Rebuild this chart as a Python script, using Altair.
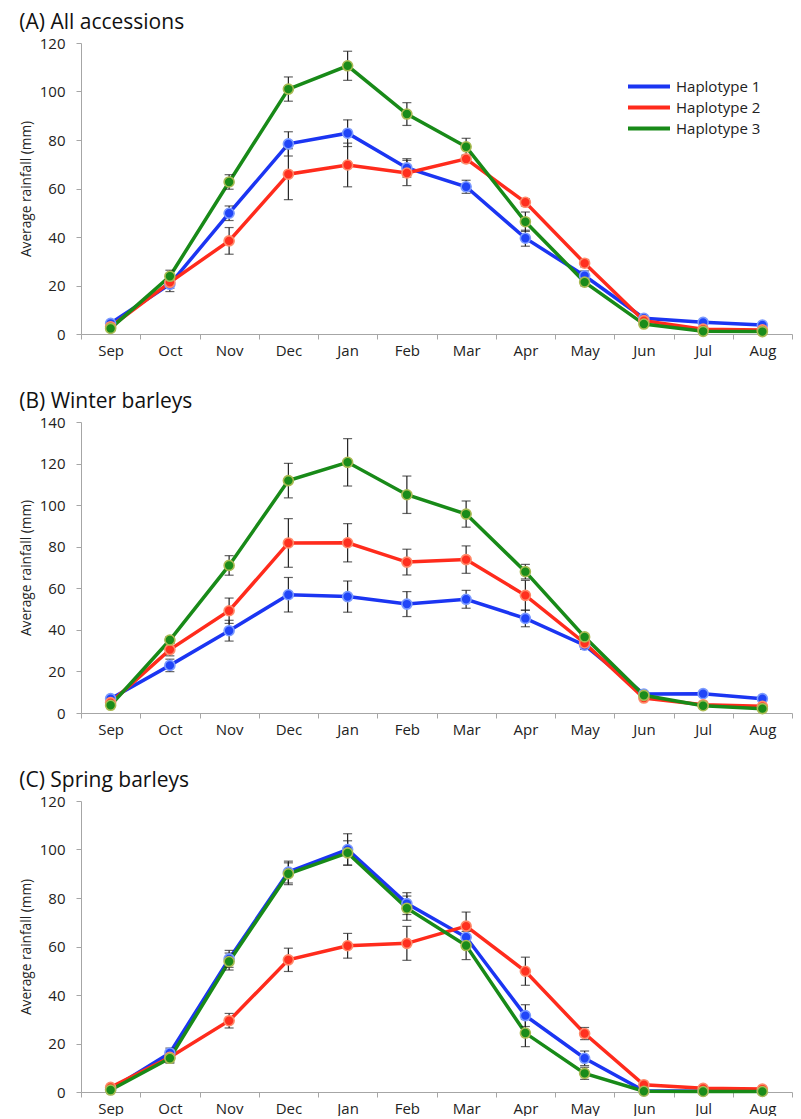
import altair as alt
import pandas as pd

months = ["Sep", "Oct", "Nov", "Dec", "Jan", "Feb", "Mar", "Apr", "May", "Jun", "Jul", "Aug"]
series = ["Haplotype 1", "Haplotype 2", "Haplotype 3"]

# (A) All accessions
a_h1 = [4.4, 20.5, 49.8, 78.4, 82.8, 68.5, 60.7, 39.5, 24.0, 6.5, 4.8, 3.7]
a_h2 = [3.0, 21.3, 38.4, 65.9, 69.7, 66.4, 72.2, 54.3, 29.2, 5.5, 2.0, 1.7]
a_h3 = [2.3, 23.8, 62.7, 101.0, 110.6, 90.7, 77.2, 46.3, 21.4, 4.1, 1.1, 1.0]
a_e1 = [0.8, 3.0, 3.0, 5.0, 5.5, 3.8, 2.7, 3.3, 2.0, 0.6, 0.5, 0.4]
a_e2 = [0.6, 2.5, 5.5, 10.5, 9.0, 5.2, 1.5, 1.5, 1.5, 0.5, 0.3, 0.3]
a_e3 = [0.5, 2.5, 3.0, 5.0, 6.0, 4.7, 3.5, 4.0, 1.5, 0.5, 0.3, 0.3]

# (B) Winter barleys
b_h1 = [6.9, 22.9, 39.6, 56.9, 56.0, 52.4, 54.7, 45.5, 32.6, 9.1, 9.3, 6.9]
b_h2 = [5.0, 30.5, 49.2, 81.8, 81.9, 72.6, 73.8, 56.6, 33.7, 7.2, 4.0, 3.2]
b_h3 = [3.7, 35.1, 71.0, 111.8, 120.6, 105.0, 95.7, 68.0, 36.6, 8.5, 3.5, 2.1]
b_e1 = [1.0, 3.0, 5.0, 8.3, 7.5, 6.0, 4.3, 4.0, 2.0, 0.8, 0.8, 0.6]
b_e2 = [0.8, 3.0, 6.1, 11.7, 9.2, 6.2, 6.6, 7.2, 2.0, 0.6, 0.5, 0.4]
b_e3 = [0.6, 1.5, 4.7, 8.3, 11.4, 9.0, 6.3, 3.5, 1.5, 0.8, 0.5, 0.4]

# (C) Spring barleys
c_h1 = [1.0, 16.1, 54.9, 90.7, 100.0, 77.7, 63.8, 31.5, 13.9, 0.5, 0.3, 0.3]
c_h2 = [1.9, 14.3, 29.4, 54.5, 60.3, 61.3, 68.4, 49.8, 24.1, 3.0, 1.5, 1.2]
c_h3 = [0.8, 13.9, 53.8, 90.0, 98.6, 75.8, 60.4, 24.3, 7.7, 0.3, 0.2, 0.2]
c_e1 = [0.3, 2.0, 3.5, 4.5, 6.5, 4.5, 4.0, 4.5, 3.0, 0.2, 0.1, 0.1]
c_e2 = [0.5, 2.0, 3.0, 4.8, 5.1, 7.0, 5.8, 5.8, 2.5, 0.5, 0.3, 0.3]
c_e3 = [0.3, 2.0, 3.5, 4.5, 5.0, 5.0, 5.8, 5.6, 2.5, 0.2, 0.1, 0.1]

line_colors = ["#1B35F2", "#FF2B1C", "#188A18"]
fill_colors = ["#2045F8", "#FF301F", "#1A8C1A"]
rim_colors = ["#7C9BFF", "#FF8A6A", "#A9BA52"]

FONT = "Open Sans"
W = 711
H = 291


def make_df(vals, errs):
    rows = []
    for s, v, e in zip(series, vals, errs):
        for i, m in enumerate(months):
            rows.append({"month": m, "series": s, "value": v[i],
                         "lo": v[i] - e[i], "hi": v[i] + e[i]})
    return pd.DataFrame(rows)


def panel(title, vals, errs, ymax, show_legend):
    df = make_df(vals, errs)
    base = alt.Chart(df)
    x = alt.X("month:N", sort=months, title=None,
              scale=alt.Scale(type="band", paddingInner=0, paddingOuter=0),
              axis=alt.Axis(labelAngle=0, tickBand="extent", labelFontSize=15,
                            labelFont=FONT, labelColor="#222222", domainColor="#A6A6A6",
                            tickColor="#A6A6A6", tickSize=5, labelPadding=4, grid=False))
    y = alt.Y("value:Q", title="Average rainfall (mm)",
              scale=alt.Scale(domain=[0, ymax], nice=False),
              axis=alt.Axis(values=list(range(0, ymax + 1, 20)), labelFontSize=15,
                            labelFont=FONT, labelColor="#222222", domainColor="#A6A6A6",
                            tickColor="#A6A6A6", tickSize=5, labelPadding=11, grid=False,
                            titleFont=FONT, titleFontSize=13.7, titleFontWeight="normal",
                            titleColor="#222222", titlePadding=6))
    if show_legend:
        legend = alt.Legend(orient="none", legendX=545, legendY=33, title=None,
                            symbolType="stroke", symbolSize=1764, symbolStrokeWidth=4,
                            labelFontSize=15, labelFont=FONT, labelColor="#222222",
                            clipHeight=21, rowPadding=0, labelOffset=4)
    else:
        legend = None
    color = alt.Color("series:N", scale=alt.Scale(domain=series, range=line_colors),
                      legend=legend)
    lines = base.mark_line(strokeWidth=3.5).encode(x=x, y=y, color=color, order=alt.Order("series:N"))
    rules = base.mark_rule(color="#222222", strokeWidth=1.2).encode(
        x=alt.X("month:N", sort=months), y="lo:Q", y2="hi:Q")
    cap_lo = base.mark_tick(color="#222222", size=9, thickness=1.2).encode(
        x=alt.X("month:N", sort=months), y="lo:Q")
    cap_hi = base.mark_tick(color="#222222", size=9, thickness=1.2).encode(
        x=alt.X("month:N", sort=months), y="hi:Q")
    points = base.mark_point(filled=False, size=100, strokeWidth=1.6, opacity=1).encode(
        x=alt.X("month:N", sort=months), y="value:Q",
        fill=alt.Fill("series:N", scale=alt.Scale(domain=series, range=fill_colors), legend=None),
        stroke=alt.Stroke("series:N", scale=alt.Scale(domain=series, range=rim_colors), legend=None),
        order=alt.Order("series:N"))
    return alt.layer(lines, rules, cap_lo, cap_hi, points).properties(
        width=W, height=H,
        title=alt.TitleParams(title, anchor="start", frame="bounds", fontSize=21, font=FONT,
                              fontWeight="normal", color="#111111", offset=3))


pa = panel("(A) All accessions", [a_h1, a_h2, a_h3], [a_e1, a_e2, a_e3], 120, True)
pb = panel("(B) Winter barleys", [b_h1, b_h2, b_h3], [b_e1, b_e2, b_e3], 140, False)
pc = panel("(C) Spring barleys", [c_h1, c_h2, c_h3], [c_e1, c_e2, c_e3], 120, False)

chart = alt.vconcat(pa, pb, pc, spacing=33).resolve_legend(
    color="independent").configure_view(stroke=None).properties(
    padding={"left": 11, "top": 4, "right": 0, "bottom": 0})

chart.save("out.html", embed_options={"renderer": "svg", "actions": False})
